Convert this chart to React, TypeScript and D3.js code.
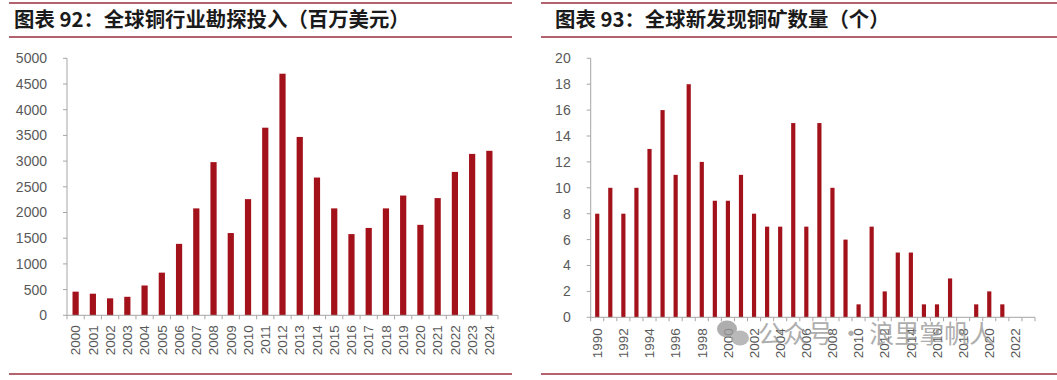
import React from "react";
import * as d3 from "d3";

const leftTitle = "图表 92：全球铜行业勘探投入（百万美元）";
const rightTitle = "图表 93：全球新发现铜矿数量（个）";

const leftYears = ["2000","2001","2002","2003","2004","2005","2006","2007","2008","2009","2010","2011","2012","2013","2014","2015","2016","2017","2018","2019","2020","2021","2022","2023","2024"];
const leftValues = [460, 420, 330, 360, 580, 830, 1390, 2080, 2980, 1600, 2260, 3650, 4700, 3470, 2680, 2080, 1580, 1700, 2080, 2330, 1760, 2280, 2790, 3140, 3200];
const leftTicks = [0, 500, 1000, 1500, 2000, 2500, 3000, 3500, 4000, 4500, 5000];

const rightYears = ["1990","1991","1992","1993","1994","1995","1996","1997","1998","1999","2000","2001","2002","2003","2004","2005","2006","2007","2008","2009","2010","2011","2012","2013","2014","2015","2016","2017","2018","2019","2020","2021","2022","2023"];
const rightValues = [8, 10, 8, 10, 13, 16, 11, 18, 12, 9, 9, 11, 8, 7, 7, 15, 7, 15, 10, 6, 1, 7, 2, 5, 5, 1, 1, 3, 0, 1, 2, 1, 0, 0];
const rightTicks = [0, 2, 4, 6, 8, 10, 12, 14, 16, 18, 20];
const rightLabelYears = rightYears.filter((_, i) => i % 2 === 0);

const watermark = "公众号 · 浪里掌帆人";

const BAR = "#a3111b";
const LINE = "#9a2f3e";
const AXIS = "#a6a6a6";
const TXT = "#595959";
const FONT = "'Liberation Sans', Arial, sans-serif";
const CJK = "'Noto Sans CJK SC', sans-serif";

type PanelProps = {
  title: string;
  years: string[];
  values: number[];
  ticks: number[];
  labelYears: string[];
  x0: number;
  x1: number;
  y0: number;
  y1: number;
  yMax: number;
  pad: number;
  lineX0: number;
  lineX1: number;
  titleX: number;
  labelOffset: number;
};

function Panel(p: PanelProps) {
  const x = d3.scaleBand<string>().domain(p.years).range([p.x0, p.x1]).paddingInner(p.pad).paddingOuter(p.pad / 2);
  const y = d3.scaleLinear().domain([0, p.yMax]).range([p.y0, p.y1]);
  const step = x.step();
  const boundaries = d3.range(p.years.length + 1).map((i) => p.x0 + i * step);
  return (
    <g>
      <line x1={p.lineX0} x2={p.lineX1} y1={3} y2={3} stroke={LINE} strokeWidth={1.5} />
      <line x1={p.lineX0} x2={p.lineX1} y1={37} y2={37} stroke={LINE} strokeWidth={1.5} />
      <line x1={p.lineX0} x2={p.lineX1} y1={374} y2={374} stroke={LINE} strokeWidth={1.5} />
      <text x={p.titleX} y={27} fontFamily={CJK} fontWeight={700} fontSize={20.4} fill="#1a1a1a">{p.title}</text>
      {p.values.map((v, i) => (
        <rect key={i} x={x(p.years[i])!} width={x.bandwidth()} y={y(v)} height={p.y0 - y(v)} fill={BAR} />
      ))}
      <line x1={p.x0} x2={p.x0} y1={p.y0} y2={p.y1} stroke={AXIS} strokeWidth={1} />
      <line x1={p.x0} x2={p.x1} y1={p.y0} y2={p.y0} stroke={AXIS} strokeWidth={1} />
      {p.ticks.map((t) => (
        <g key={t}>
          <line x1={p.x0 - 4} x2={p.x0} y1={y(t)} y2={y(t)} stroke={AXIS} />
          <text x={p.x0 - 20} y={y(t)} dy="0.35em" textAnchor="end" fontFamily={FONT} fontSize={14} fill={TXT}>{t}</text>
        </g>
      ))}
      {boundaries.map((bx, i) => (
        <line key={i} x1={bx} x2={bx} y1={p.y0} y2={p.y0 + 4} stroke={AXIS} />
      ))}
      {p.labelYears.map((yr) => {
        const cx = x(yr)! + x.bandwidth() / 2;
        const cy = p.y0 + p.labelOffset;
        return (
          <text key={yr} transform={`translate(${cx},${cy}) rotate(-90)`} dy="0.35em" textAnchor="end" fontFamily={FONT} fontSize={13.5} fill={TXT}>{yr}</text>
        );
      })}
    </g>
  );
}

export default function App() {
  return (
    <svg width={1057} height={380} style={{ position: "absolute", left: 0, top: 0, background: "#fff" }}>
      <rect width={1057} height={380} fill="#fff" />
      <Panel title={leftTitle} years={leftYears} values={leftValues} ticks={leftTicks} labelYears={leftYears}
        x0={67} x1={498} y0={315.3} y1={58.3} yMax={5000} pad={0.64} lineX0={9} lineX1={512} titleX={14} labelOffset={10} />
      <Panel title={rightTitle} years={rightYears} values={rightValues} ticks={rightTicks} labelYears={rightLabelYears}
        x0={590.7} x1={1035} y0={317.3} y1={58.3} yMax={20} pad={0.68} lineX0={541} lineX1={1057} titleX={555} labelOffset={11} />
      <g opacity={0.8}>
        <ellipse cx={727} cy={329} rx={10} ry={8.5} fill="#9a9a9a" />
        <ellipse cx={740} cy={338} rx={9} ry={7.5} fill="#a8a8a8" />
        <text x={758} y={343} fontFamily={CJK} fontSize={25} fill="#9a9a9a">{watermark}</text>
      </g>
    </svg>
  );
}
